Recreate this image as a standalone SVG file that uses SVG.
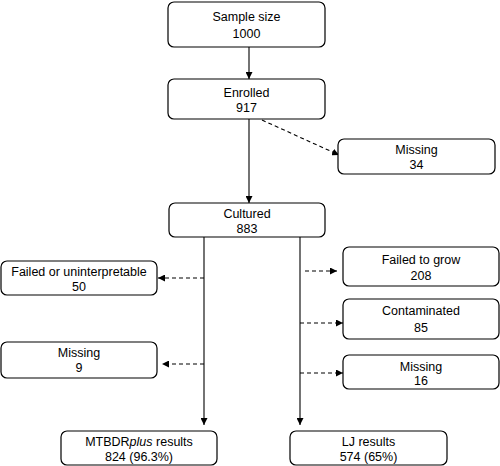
<svg xmlns="http://www.w3.org/2000/svg" width="500" height="466" viewBox="0 0 500 466">
<style>
.box{fill:#fff;stroke:#000;stroke-width:1.2}
text{font-family:"Liberation Sans",Arial,sans-serif;font-size:12.5px;fill:#000;text-anchor:middle}
.s{stroke:#000;stroke-width:1.1;fill:none}
.d{stroke:#000;stroke-width:1.1;fill:none;stroke-dasharray:4,3}
</style>
<defs>
<marker id="ah" viewBox="0 0 10 10" refX="10" refY="5" markerWidth="7" markerHeight="7" markerUnits="userSpaceOnUse" orient="auto">
<path d="M0,0 L10,5 L0,10 z" fill="#000"/>
</marker>
</defs>
<rect width="500" height="466" fill="#fff"/>
<g id="connectors">
<line class="s" x1="249" y1="47" x2="249" y2="79" marker-end="url(#ah)"/>
<line class="s" x1="249" y1="119" x2="249" y2="203" marker-end="url(#ah)"/>
<line class="d" x1="262" y1="120" x2="339" y2="155" marker-end="url(#ah)"/>
<line class="s" x1="204" y1="237" x2="204" y2="425" marker-end="url(#ah)"/>
<line class="s" x1="300" y1="237" x2="300" y2="425" marker-end="url(#ah)"/>
<line class="d" x1="204" y1="278" x2="158" y2="278" marker-end="url(#ah)"/>
<line class="d" x1="204" y1="364" x2="162" y2="364" marker-end="url(#ah)"/>
<line class="d" x1="305" y1="271" x2="337" y2="271" marker-end="url(#ah)"/>
<line class="d" x1="300" y1="323" x2="343" y2="323" marker-end="url(#ah)"/>
<line class="d" x1="300" y1="373" x2="343" y2="373" marker-end="url(#ah)"/>
</g>
<g id="sample"><rect class="box" x="168" y="2" width="157" height="45" rx="6"/><text x="246.5" y="21">Sample size</text><text x="246.5" y="38">1000</text></g>
<g id="enrolled"><rect class="box" x="168" y="79" width="157" height="40" rx="6"/><text x="246.5" y="97">Enrolled</text><text x="246.5" y="112">917</text></g>
<g id="missing34"><rect class="box" x="338" y="139" width="157" height="35" rx="6"/><text x="416.5" y="154">Missing</text><text x="416.5" y="169">34</text></g>
<g id="cultured"><rect class="box" x="169" y="203" width="156" height="34" rx="6"/><text x="247" y="218">Cultured</text><text x="247" y="233">883</text></g>
<g id="failed"><rect class="box" x="1" y="261" width="156" height="34" rx="6"/><text x="79" y="276">Failed or uninterpretable</text><text x="79" y="291">50</text></g>
<g id="missing9"><rect class="box" x="1" y="342" width="156" height="36" rx="6"/><text x="79" y="357">Missing</text><text x="79" y="372">9</text></g>
<g id="failedgrow"><rect class="box" x="343" y="247" width="156" height="39" rx="6"/><text x="421" y="264">Failed to grow</text><text x="421" y="280">208</text></g>
<g id="contaminated"><rect class="box" x="343" y="299" width="156" height="40" rx="6"/><text x="421" y="315">Contaminated</text><text x="421" y="332">85</text></g>
<g id="missing16"><rect class="box" x="343" y="355" width="156" height="34" rx="6"/><text x="421" y="371">Missing</text><text x="421" y="385">16</text></g>
<g id="mtbdr"><rect class="box" x="61" y="431" width="156" height="34" rx="6"/><text x="139" y="446">MTBDR<tspan font-style="italic">plus</tspan> results</text><text x="139" y="461">824 (96.3%)</text></g>
<g id="lj"><rect class="box" x="290" y="431" width="157" height="34" rx="6"/><text x="368.5" y="446">LJ results</text><text x="368.5" y="461">574 (65%)</text></g>
</svg>
